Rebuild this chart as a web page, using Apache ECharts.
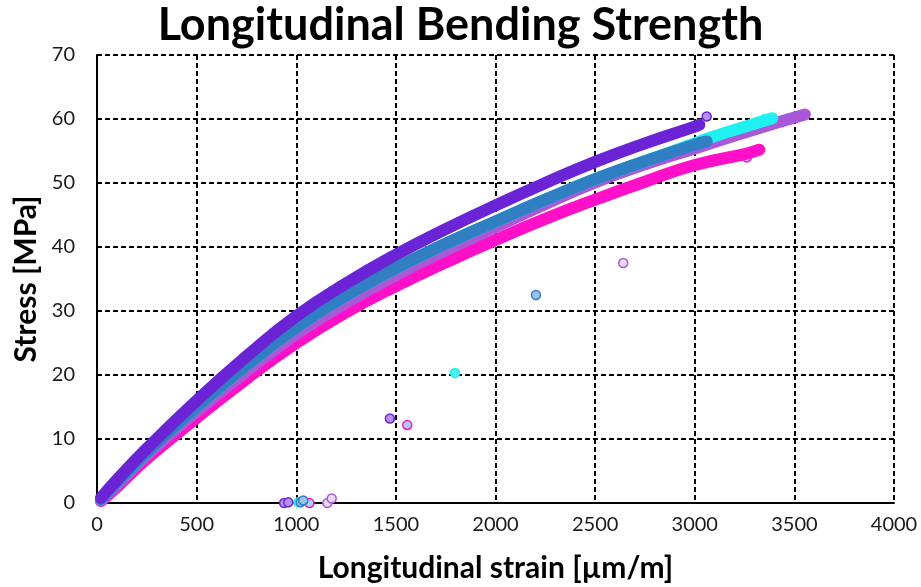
<!DOCTYPE html>
<html>
<head>
<meta charset="utf-8">
<script src="https://cdn.jsdelivr.net/npm/echarts@6/dist/echarts.min.js"></script>
<style>
  html, body { margin: 0; padding: 0; background: #fff; }
  #chart { width: 921px; height: 587px; }
</style>
</head>
<body>
<div id="chart"></div>
<script>
// strain grid shared by the curves [µm/m]
const strainA = [20, 100, 250, 500, 750, 1000, 1250, 1500, 1750, 2000, 2250, 2500, 2750, 3000];

// curve values (stress, MPa)
const purpleS  = [0.8, 3.6, 8.5, 16.0, 22.9, 29.2, 34.3, 38.8, 42.8, 46.5, 50.0, 53.3, 56.2, 58.8];
const purpleX  = [3023];  const purpleEnd  = [59.1];
const blueS    = [0.6, 3.2, 8.0, 15.0, 21.5, 27.4, 32.4, 36.7, 40.5, 44.0, 47.4, 50.6, 53.4, 56.0];
const blueX    = [3060];  const blueEnd    = [56.5];
const cyanS    = [0.6, 3.2, 8.0, 15.0, 21.5, 27.4, 32.4, 36.7, 40.5, 44.0, 47.4, 50.6, 53.4, 56.2];
const cyanX    = [3060, 3200, 3389]; const cyanEnd = [56.9, 58.3, 60.1];
const orchidS  = [0.4, 2.8, 7.5, 14.3, 20.6, 26.4, 31.3, 35.6, 39.5, 43.1, 46.7, 50.1, 52.9, 55.4];
const orchidX  = [3250, 3553]; const orchidEnd = [57.9, 60.7];
const magentaS = [0.3, 2.5, 6.9, 13.3, 19.4, 25.0, 29.8, 33.9, 37.6, 41.1, 44.4, 47.4, 50.2, 52.8];
const magentaX = [3261, 3324]; const magentaEnd = [54.6, 55.2];

// loose points (strain, stress)
const purplePts  = [[939, 0.0], [960, 0.1], [1470, 13.2], [3023, 59.1], [3060, 60.4]];
const bluePts    = [[1022, 0.1], [1035, 0.4], [2203, 32.5], [3061, 56.5]];
const cyanPts    = [[15, 0.3], [1010, 0.1], [1797, 20.3], [3353, 60.0], [3389, 60.1]];
const orchidPts  = [[1156, 0.0], [1178, 0.7], [2641, 37.5], [3553, 60.7]];
const magentaPts = [[1066, 0.0], [1557, 12.2], [3261, 54.0], [3324, 55.2]];

function curve(s, xs, ends) {
    let d = strainA.map((x, i) => [x, s[i]]);
    xs.forEach((x, i) => d.push([x, ends[i]]));
    return d;
}

let myChart = echarts.init(document.getElementById('chart'));

const font = 'Lato, "Open Sans", sans-serif';

function band(name, color, data) {
    return {
        name: name,
        type: 'line',
        data: data,
        smooth: true,
        showSymbol: false,
        symbol: 'none',
        silent: true,
        lineStyle: { color: color, width: 12, cap: 'round' },
    };
}

function dots(name, border, fill, data) {
    return {
        name: name,
        type: 'scatter',
        data: data,
        symbolSize: 9,
        itemStyle: { color: fill, borderColor: border, borderWidth: 1.5, opacity: 1 },
    };
}

let option = {
    animation: false,
    backgroundColor: '#fff',
    title: {
        text: 'Longitudinal Bending Strength',
        left: 'center',
        top: -2,
        textStyle: { fontFamily: font, fontSize: 45, fontWeight: 'bold', color: '#000' },
    },
    grid: { left: 97, right: 27, top: 55, bottom: 84, outerBoundsMode: 'none' },
    xAxis: {
        type: 'value',
        min: 0, max: 4000, interval: 500,
        name: 'Longitudinal strain [µm/m]',
        nameLocation: 'middle',
        nameGap: 50,
        nameTextStyle: { fontFamily: font, fontSize: 30, fontWeight: 'bold', color: '#000' },
        axisLine: { show: true, lineStyle: { color: '#000', width: 2 } },
        axisTick: { show: false },
        axisLabel: { fontFamily: font, fontSize: 20, color: '#1a1a1a', margin: 12,
            formatter: (v) => String(v) },
        splitLine: { show: true, lineStyle: { color: '#000', width: 2, type: [5, 3] } },
    },
    yAxis: {
        type: 'value',
        min: 0, max: 70, interval: 10,
        name: 'Stress [MPa]',
        nameLocation: 'middle',
        nameGap: 52,
        nameTextStyle: { fontFamily: font, fontSize: 30, fontWeight: 'bold', color: '#000' },
        axisLine: { show: true, lineStyle: { color: '#000', width: 2 } },
        axisTick: { show: false },
        axisLabel: { fontFamily: font, fontSize: 20, color: '#1a1a1a', margin: 22 },
        splitLine: { show: true, lineStyle: { color: '#000', width: 2, type: [5, 3] } },
    },
    series: [
        band('Magenta', '#ff10c8', curve(magentaS, magentaX, magentaEnd)),
        band('Orchid', '#aa58d8', curve(orchidS, orchidX, orchidEnd)),
        band('Cyan', '#1ff0f0', curve(cyanS, cyanX, cyanEnd)),
        band('Blue', '#2f7fc2', curve(blueS, blueX, blueEnd)),
        band('Purple', '#6a24d6', curve(purpleS, purpleX, purpleEnd)),
        dots('Magenta pts', '#ff10c8', '#a8d4f4', magentaPts),
        dots('Orchid pts', '#aa58d8', '#e6daf4', orchidPts),
        dots('Cyan pts', '#1ff0f0', '#4ff4f4', cyanPts),
        dots('Blue pts', '#2f7fc2', '#9cc4ea', bluePts),
        dots('Purple pts', '#6a24d6', '#b890f0', purplePts),
    ],
};

myChart.setOption(option);
</script>
</body>
</html>
